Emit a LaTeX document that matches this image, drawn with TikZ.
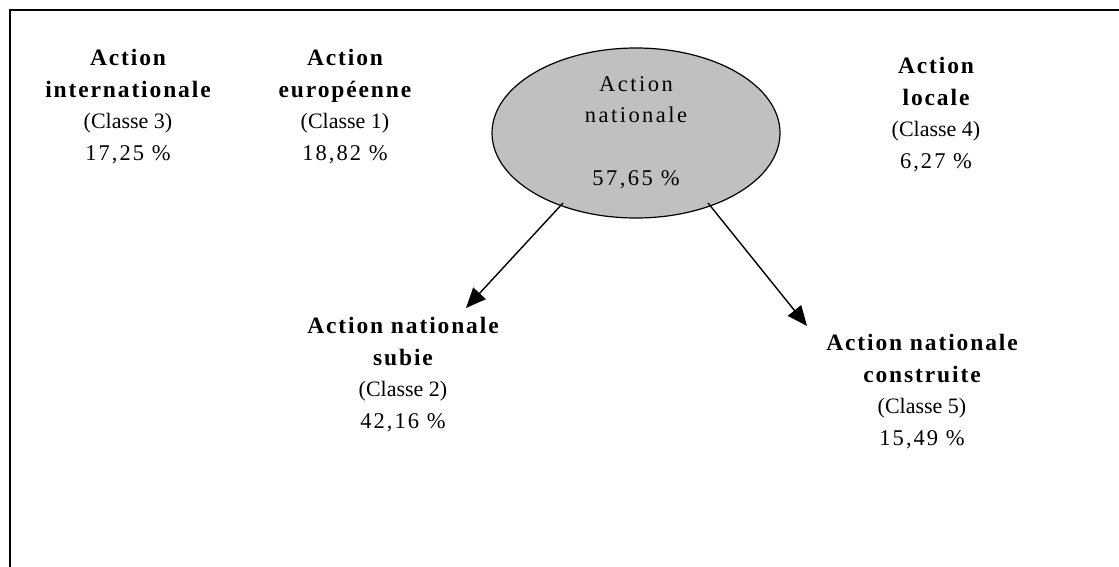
\documentclass[tikz,border=0pt]{standalone}
\usepackage{fontspec}
\setmainfont{Liberation Serif}
\newfontfamily\spaced[LetterSpace=8]{Liberation Serif}
\newfontfamily\numspaced[LetterSpace=9]{Liberation Serif}
\newfontfamily\ellspaced[LetterSpace=11]{Liberation Serif}
\usetikzlibrary{arrows.meta,shapes.geometric,calc}
\definecolor{ellgray}{HTML}{C0C0C0}
\newcommand{\hd}[1]{{\spaced\bfseries\fontsize{23.5}{31.5}\selectfont #1}}
\newcommand{\pc}[1]{{\numspaced\fontsize{22.5}{31.5}\selectfont #1}}
\tikzset{
  lbl/.style={align=center,inner sep=0pt,anchor=north,font=\fontsize{22}{31.5}\selectfont},
  conn/.style={line width=1.4pt,-{Triangle[length=20pt,width=17pt]}},
  frame/.style={line width=2.6pt}
}
\begin{document}
\begin{tikzpicture}[x=1pt,y=-1pt]
\useasboundingbox (0,0) rectangle (1119,567);
\draw[frame] (10,567) -- (10,10) -- (1119,10);
\node[draw,fill=ellgray,ellipse,line width=1.2pt,minimum width=288pt,minimum height=170pt,inner sep=0pt,align=center,font=\ellspaced\fontsize{22.5}{31}\selectfont] (nat) at (636,133) {Action\\nationale\\[32pt]57,65 \%};
\node[lbl] (intl) at (128,49) {\hd{Action}\\\hd{internationale}\\(Classe 3)\\\pc{17,25 \%}};
\node[lbl] (euro) at (345,49) {\hd{Action}\\\hd{européenne}\\(Classe 1)\\\pc{18,82 \%}};
\node[lbl] (loc) at (936,57) {\hd{Action}\\\hd{locale}\\(Classe 4)\\\pc{6,27 \%}};
\node[lbl] (subie) at (403,317) {\hd{Action nationale}\\\hd{subie}\\(Classe 2)\\\pc{42,16 \%}};
\node[lbl] (constr) at (922,334) {\hd{Action nationale}\\\hd{construite}\\(Classe 5)\\\pc{15,49 \%}};
\coordinate (subieTip) at (466,308);
\coordinate (constrTip) at (807,326);
\draw[conn] ($(nat.center)+(-73,70)$) -- (subieTip);
\draw[conn] ($(nat.center)+(72,70)$) -- (constrTip);
\end{tikzpicture}
\end{document}
